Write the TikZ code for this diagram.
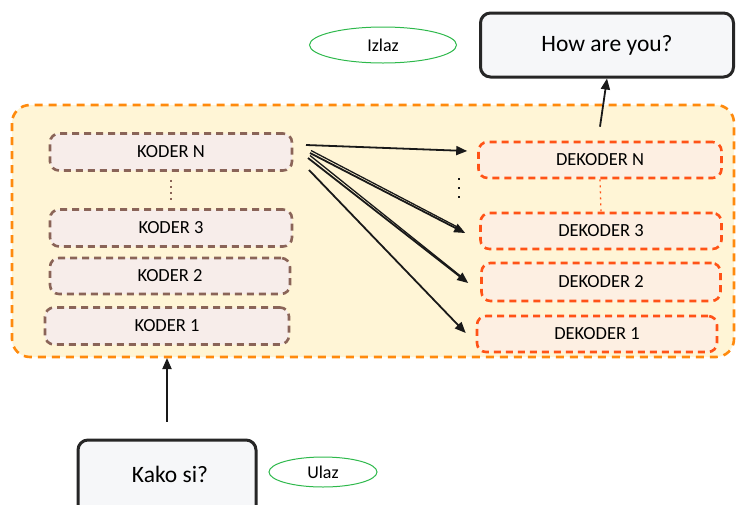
\documentclass[tikz,border=0pt]{standalone}
\usepackage{fontspec}
\setmainfont{Carlito}
\usetikzlibrary{arrows.meta,shapes.geometric,calc}
\definecolor{contfill}{HTML}{FFF5D6}
\definecolor{contdraw}{HTML}{FF8A0D}
\definecolor{kodfill}{HTML}{F7EDEA}
\definecolor{koddraw}{HTML}{8A6458}
\definecolor{dekfill}{HTML}{FDEFE2}
\definecolor{dekdraw}{HTML}{FF5317}
\definecolor{boxfill}{HTML}{F6F7F9}
\definecolor{ellgreen}{HTML}{2DB84B}
\begin{document}
\begin{tikzpicture}[x=1pt,y=-1pt,
  container/.style={draw=contdraw,fill=contfill,line width=2.6pt,dash pattern=on 8pt off 6pt,rounded corners=18pt},
  koder/.style={draw=koddraw,fill=kodfill,line width=2.6pt,dash pattern=on 7pt off 5pt,rounded corners=9pt,font=\fontsize{18.5}{20}\selectfont},
  dekoder/.style={draw=dekdraw,fill=dekfill,line width=2.6pt,dash pattern=on 7pt off 5pt,rounded corners=9pt,font=\fontsize{18.5}{20}\selectfont},
  iobox/.style={draw=black!85,fill=boxfill,line width=3pt,rounded corners=10pt,font=\fontsize{23.5}{26}\selectfont},
  lbl/.style={draw=ellgreen,line width=1pt,ellipse,font=\fontsize{18}{20}\selectfont},
  arr/.style={-{Triangle[length=11pt,width=9pt]},line width=1.8pt,black!90},
  ln/.style={line width=1.3pt,black!90}
]
\useasboundingbox (0,0) rectangle (736,504);
% container
\draw[container] (12,105) rectangle (734,357);
% koder boxes
\node[koder,minimum width=242pt,minimum height=37pt] (kn) at (171,152) {KODER N};
\node[koder,minimum width=242pt,minimum height=37pt] (k3) at (171,228) {KODER 3};
\node[koder,minimum width=240pt,minimum height=36pt] (k2) at (170,276) {KODER 2};
\node[koder,minimum width=244pt,minimum height=37pt] (k1) at (167,326) {KODER 1};
\draw[koddraw,line width=1.5pt,dash pattern=on 2pt off 4pt] ($(kn.south)+(0,8)$) -- ($(k3.north)+(0,-8)$);
% dekoder boxes
\node[dekoder,minimum width=243pt,minimum height=36pt] (dn) at (600,160) {DEKODER N};
\node[dekoder,minimum width=241pt,minimum height=36pt] (d3) at (601,231) {DEKODER 3};
\node[dekoder,minimum width=239pt,minimum height=38pt] (d2) at (601,282) {DEKODER 2};
\node[dekoder,minimum width=240pt,minimum height=36pt] (d1) at (597,334) {DEKODER 1};
\draw[dekdraw,line width=1.3pt,dash pattern=on 2pt off 4pt] (dn.south) -- (d3.north);
% vertical ellipsis between the arrows
\coordinate (vtop) at (459,178);
\coordinate (vbot) at (459,199);
\draw[black!90,line width=2.2pt,dash pattern=on 2.2pt off 6.8pt] (vtop) -- (vbot);
% arrows from KODER N
\coordinate (s1) at (306,145);
\coordinate (s2) at (310,153);
\coordinate (s3) at (308,158);
\coordinate (s4) at (309,170);
\coordinate (e1) at ($(dn.west)+(-10,-9)$);
\coordinate (e2) at ($(d3.west)+(-14,2)$);
\coordinate (e3) at ($(d2.west)+(-12,1)$);
\coordinate (e4) at ($(d1.west)+(-10,-1)$);
\draw[arr] (s1) -- (e1);
\draw[arr] (s2) -- (e2);
\draw[ln] ($(s2)+(1,-2.5)$) -- ($(e2)+(-4,-4)$);
\draw[arr] (s3) -- (e3);
\draw[ln] ($(s3)+(2,-2.5)$) -- ($(e3)+(-4,-4)$);
\draw[arr] (s4) -- (e4);
% output
\node[iobox,minimum width=253pt,minimum height=64pt] (out) at (607,45) {How are you?};
\draw[arr] ($(dn.north)+(0,-14)$) -- (out.south);
\node[lbl,minimum width=147pt,minimum height=36pt] (izlaz) at (383,45) {Izlaz};
% input
\node[iobox,minimum width=178pt,minimum height=80pt] (in) at (167,480) {};
\node[font=\fontsize{23.5}{26}\selectfont] (intxt) at (170,474) {Kako si?};
\draw[arr] ($(in.north)+(0,-17)$) -- (167,358);
\node[lbl,minimum width=108pt,minimum height=30pt] (ulaz) at (323,472) {Ulaz};
\end{tikzpicture}
\end{document}
